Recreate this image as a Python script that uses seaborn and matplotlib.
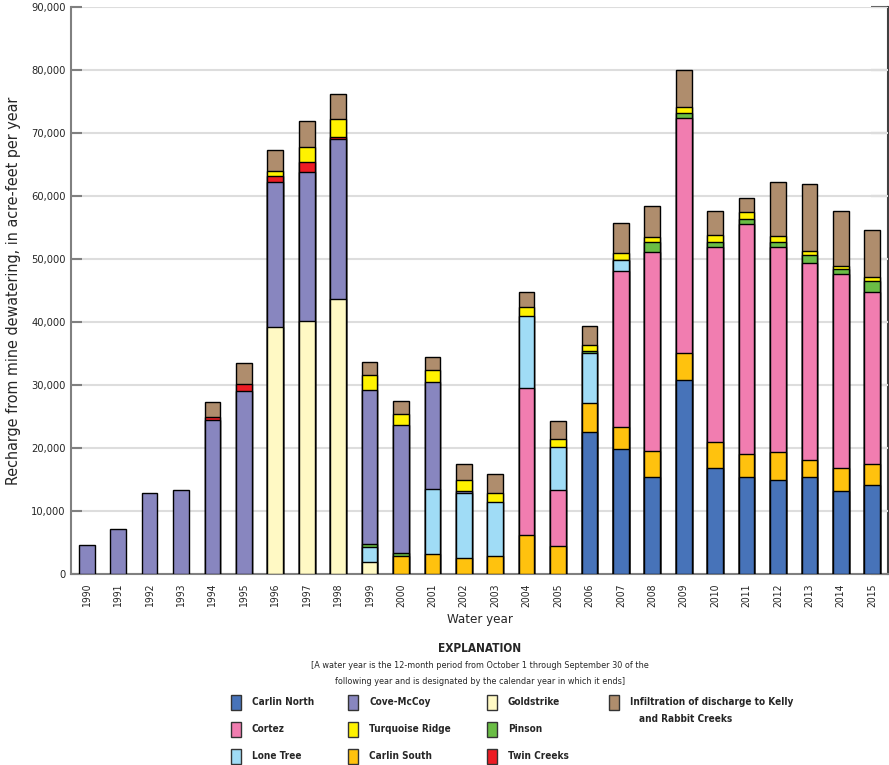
import numpy as np
import pandas as pd
import matplotlib
matplotlib.use("Agg")
import matplotlib.pyplot as plt
from matplotlib.patches import Rectangle
from matplotlib.ticker import FuncFormatter
import seaborn as sns

years = [str(y) for y in range(1990, 2016)]

carlin_north = [0]*16 + [22490, 19890, 15450, 30740, 16770, 15450, 14920, 15340, 13230, 14070]
carlin_south = [0]*10 + [2900, 3120, 2490, 2800, 6140, 4390, 4600, 3500, 4020, 4390, 4130, 3550, 4500, 2760, 3540, 3390]
goldstrike = [0]*6 + [39150, 40100, 43650, 1850] + [0]*16
cortez = [0]*14 + [23380, 8890, 0, 24710, 31590, 37200, 31000, 36500, 32480, 31320, 30850, 27350]
lone_tree = [0]*9 + [2380, 0, 10320, 10370, 8580, 11380, 6830, 7990, 1690] + [0]*8
pinson = [0]*9 + [480, 400, 0, 0, 0, 0, 0, 300, 100, 1590, 790, 800, 800, 750, 1160, 740, 1700]
cove_mccoy = [4550, 7190, 12860, 13330, 24400, 29050, 23100, 23650, 25350, 24440, 20350, 16980, 310] + [0]*13
twin_creeks = [0]*4 + [580, 1060, 900, 1590, 420] + [0]*17
turquoise = [0]*6 + [800, 2430, 2810, 2380, 1800, 1910, 1700, 1420, 1430, 1270, 920, 1010, 900, 1060, 1060, 1110, 1050, 640, 480, 580]
infiltration = [0]*4 + [2300, 3330, 3380, 4120, 3920, 2170, 1960, 2170, 2640, 3020, 2380, 2910, 3010, 4860, 4810, 5870, 3910, 2320, 8570, 10630, 8730, 7470]

series = [
    ("Carlin North", carlin_north, "#4773B9"),
    ("Carlin South", carlin_south, "#FFC20E"),
    ("Goldstrike", goldstrike, "#FFF9C4"),
    ("Cortez", cortez, "#F17DB0"),
    ("Lone Tree", lone_tree, "#A0DCF6"),
    ("Pinson", pinson, "#6ABD45"),
    ("Cove-McCoy", cove_mccoy, "#8886BF"),
    ("Twin Creeks", twin_creeks, "#ED1C24"),
    ("Turquoise Ridge", turquoise, "#FFF200"),
    ("Infiltration of discharge to Kelly and Rabbit Creeks", infiltration, "#AF8D6D"),
]

sns.set_style("white")
plt.rcParams['font.family'] = ['DejaVu Sans']
plt.rcParams['font.stretch'] = 'condensed'

fig = plt.figure(figsize=(8.89, 7.65), dpi=100)
ax = fig.add_axes([71/889, 1-574/765, 817/889, 567/765])

# cumulative tops; draw from top series downward so lower layers overlay
vals = np.array([s[1] for s in series], dtype=float)
cum = np.cumsum(vals, axis=0)
for i in range(len(series)-1, -1, -1):
    top = cum[i].copy()
    top[vals[i] == 0] = np.nan
    df = pd.DataFrame({"year": years, "value": top})
    sns.barplot(data=df, x="year", y="value", order=years, color=series[i][2],
                width=0.5, edgecolor="black", linewidth=1.0, errorbar=None,
                saturation=1, ax=ax, zorder=3)

ax.set_xlim(-0.5, 25.5)
ax.set_ylim(0, 90000)
ax.set_yticks(np.arange(0, 90001, 10000))
ax.yaxis.set_major_formatter(FuncFormatter(lambda v, p: f"{int(v):,}"))
ax.yaxis.grid(True, color="#DDDDDD", lw=1.5, zorder=0)
ax.xaxis.grid(False)
ax.set_axisbelow(True)

for s in ["left", "bottom"]:
    ax.spines[s].set_color("#808080")
    ax.spines[s].set_linewidth(1.5)
ax.spines["top"].set_visible(False)
ax.spines["right"].set_visible(False)

ax.tick_params(axis="y", direction="in", length=8, width=1.5, color="#808080",
               labelsize=8, pad=4, left=True, right=False)
ax.tick_params(axis="x", length=0, labelsize=7.5, pad=7)
plt.setp(ax.get_xticklabels(), rotation=90)

sec = ax.secondary_yaxis("right")
sec.set_yticks(np.arange(0, 90001, 10000))
sec.tick_params(direction="in", length=12, width=1.5, color="#666666", labelright=False)
sec.spines["right"].set_color("#404040")
sec.spines["right"].set_linewidth(1.5)

ax.set_xlabel("Water year", fontsize=9.5, labelpad=4)
ax.set_ylabel("Recharge from mine dewatering, in acre-feet per year", fontsize=11.5, labelpad=7)

# Explanation block
cx = 480/889
fig.text(cx, 1-648/765, "EXPLANATION", ha="center", va="center", fontsize=8.5, fontweight="bold")
fig.text(cx, 1-666/765, "[A water year is the 12-month period from October 1 through September 30 of the",
         ha="center", va="center", fontsize=6.5)
fig.text(cx, 1-681/765, "following year and is designated by the calendar year in which it ends]",
         ha="center", va="center", fontsize=6.5)

layout = [
    (0, 236, 702), (3, 236, 729), (4, 236, 756),
    (6, 353, 702), (8, 353, 729), (1, 353, 756),
    (2, 492, 702), (5, 492, 729), (7, 492, 756),
    (9, 614, 702),
]
for idx, px, py in layout:
    label, _, color = series[idx]
    pw, ph = 10, 15
    fig.patches.append(Rectangle(((px-pw/2)/889, (765-py-ph/2)/765), pw/889, ph/765,
                                 transform=fig.transFigure, facecolor=color,
                                 edgecolor="#333333", lw=1.0))
    if idx == 9:
        fig.text((px+16)/889, 1-py/765, "Infiltration of discharge to Kelly", ha="left", va="center",
                 fontsize=7.2, fontweight="bold")
        fig.text((px+25)/889, 1-(py+17)/765, "and Rabbit Creeks", ha="left", va="center",
                 fontsize=7.2, fontweight="bold")
    else:
        fig.text((px+16)/889, 1-py/765, label, ha="left", va="center", fontsize=7.2, fontweight="bold")

fig.savefig("out.png", dpi=100)
